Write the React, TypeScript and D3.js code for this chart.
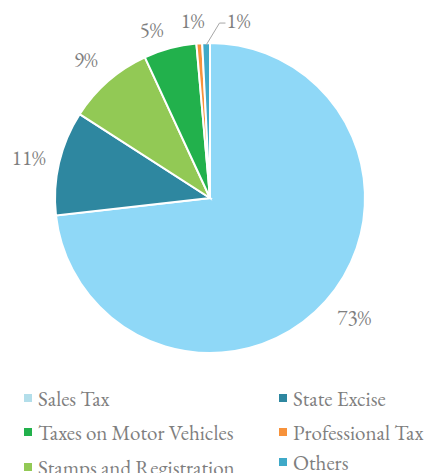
import React, { useEffect, useRef } from "react";
import * as d3 from "d3";

const categories = [
  "Sales Tax",
  "State Excise",
  "Stamps and Registration",
  "Taxes on Motor Vehicles",
  "Professional  Tax",
  "Others",
];
const values = [73.2, 10.9, 9.0, 5.5, 0.6, 0.8];
const labels = ["73%", "11%", "9%", "5%", "1%", "1%"];
const colors = ["#8FD8F7", "#2E87A0", "#92C955", "#22B14C", "#F7923B", "#3FA9C8"];
const legendColors = ["#B3DEEA", "#2E87A0", "#92C955", "#22B14C", "#F7923B", "#3FA9C8"];
// legend order as laid out in two columns
const legendOrder = [0, 1, 3, 4, 2, 5];

const App = () => {
  const ref = useRef<SVGSVGElement>(null);

  useEffect(() => {
    const svg = d3.select(ref.current);
    svg.selectAll("*").remove();

    const cx = 210;
    const cy = 198;
    const r = 155;
    const font = "'EB Garamond', Garamond, 'Liberation Serif', serif";
    const grey = "#7F7F7F";

    const data = values.map((v, i) => ({ v, i }));
    const pie = d3
      .pie<{ v: number; i: number }>()
      .value((d) => d.v)
      .sort(null);
    const arcs = pie(data);

    const arc = d3
      .arc<d3.PieArcDatum<{ v: number; i: number }>>()
      .innerRadius(0)
      .outerRadius(r);
    const labelArc = d3
      .arc<d3.PieArcDatum<{ v: number; i: number }>>()
      .innerRadius(180)
      .outerRadius(180);

    const g = svg.append("g").attr("transform", `translate(${cx},${cy})`);

    g.selectAll("path.slice")
      .data(arcs)
      .enter()
      .append("path")
      .attr("class", "slice")
      .attr("d", arc)
      .attr("fill", (d) => colors[d.data.i])
      .attr("stroke", "#fff")
      .attr("stroke-width", 2);

    // small nudges for crowded labels
    const nudge = [
      [10, 0],
      [-6, 0],
      [-6, -3],
      [-12, 5],
      [-5, 2],
      [33, 2],
    ];

    g.selectAll("text.lbl")
      .data(arcs)
      .enter()
      .append("text")
      .attr("class", "lbl")
      .attr("x", (d) => labelArc.centroid(d)[0] + nudge[d.data.i][0])
      .attr("y", (d) => labelArc.centroid(d)[1] + nudge[d.data.i][1])
      .attr("text-anchor", "middle")
      .attr("dominant-baseline", "central")
      .attr("font-family", font)
      .attr("font-size", 21)
      .attr("fill", grey)
      .text((d) => labels[d.data.i]);

    // leader line for last slice
    const last = arcs[arcs.length - 1];
    const pMid = (last.startAngle + last.endAngle) / 2;
    const p0: [number, number] = [Math.sin(pMid) * (r - 2), -Math.cos(pMid) * (r - 2)];
    const lc = labelArc.centroid(last);
    const p2: [number, number] = [lc[0] + nudge[5][0] - 13, lc[1] + nudge[5][1] + 3];
    const p1: [number, number] = [p2[0] - 6, p2[1]];
    g.append("path")
      .attr("d", d3.line()([p0, p1, p2]))
      .attr("fill", "none")
      .attr("stroke", "#A6A6A6")
      .attr("stroke-width", 1);

    // legend
    const colX = [24, 279];
    const rowY = [398, 432, 467];
    const legend = svg.append("g");
    legendOrder.forEach((ci, k) => {
      const col = k % 2;
      const row = Math.floor(k / 2);
      let y = rowY[row];
      if (row === 2 && col === 1) y -= 5;
      const item = legend.append("g").attr("transform", `translate(${colX[col]},${y})`);
      item
        .append("rect")
        .attr("x", 0)
        .attr("y", -4)
        .attr("width", 8)
        .attr("height", 8)
        .attr("fill", legendColors[ci]);
      item
        .append("text")
        .attr("x", 14)
        .attr("y", 0)
        .attr("dominant-baseline", "central")
        .attr("font-family", font)
        .attr("font-size", 21)
        .attr("fill", grey)
        .text(categories[ci]);
    });
  }, []);

  return (
    <div style={{ position: "absolute", left: 0, top: 0 }}>
      <svg ref={ref} width={429} height={473} style={{ display: "block", background: "#fff" }} />
    </div>
  );
};

export default App;
